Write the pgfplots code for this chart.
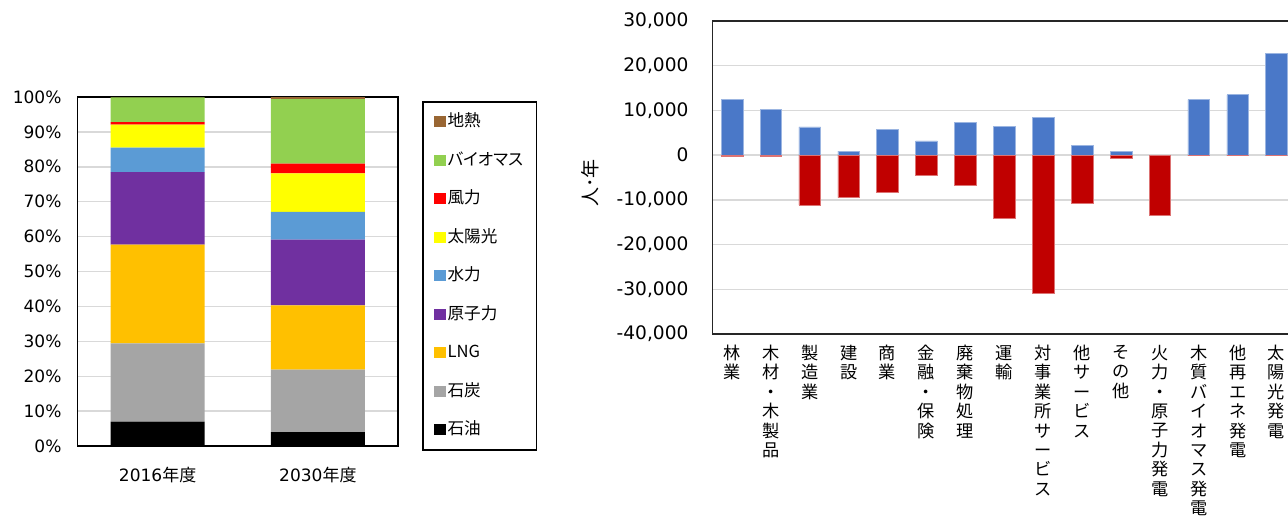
\documentclass[border=0pt]{standalone}
\usepackage{fontspec}
\setmainfont{DejaVu Sans}
\newfontfamily\jp{Noto Sans CJK JP}
\newfontfamily\jpp[RawFeature=+palt]{Noto Sans CJK JP}
\usepackage{pgfplots}
\pgfplotsset{compat=1.18}

\definecolor{oil}{HTML}{000000}
\definecolor{coal}{HTML}{A5A5A5}
\definecolor{lng}{HTML}{FFC000}
\definecolor{nuclear}{HTML}{7030A0}
\definecolor{hydro}{HTML}{5B9BD5}
\definecolor{solar}{HTML}{FFFF00}
\definecolor{wind}{HTML}{FF0000}
\definecolor{biomass}{HTML}{92D050}
\definecolor{geo}{HTML}{996633}
\definecolor{posblue}{HTML}{4A78C8}
\definecolor{negred}{HTML}{C00000}
\definecolor{gridgray}{HTML}{D9D9D9}
\definecolor{frame}{HTML}{262626}

\begin{document}
\begin{tikzpicture}
\path[use as bounding box] (0,0) rectangle (644pt,258pt);
\clip (0,0) rectangle (644pt,258pt);

% ---- electricity mix, share of generation ----
\begin{axis}[
  at={(38.75pt,35pt)}, anchor=south west,
  scale only axis, width=160.25pt, height=174.5pt,
  ybar stacked, bar width=0.5875,
  xmin=-0.5, xmax=1.5, ymin=0, ymax=100,
  xtick={0,1}, xticklabels={{2016\jp 年度},{2030\jp 年度}},
  ytick={0,10,...,100},
  yticklabels={0\%,10\%,20\%,30\%,40\%,50\%,60\%,70\%,80\%,90\%,100\%},
  ymajorgrids, grid style={gridgray, line width=0.7pt},
  major tick length=0pt,
  axis line style={black, line width=0.8pt},
  tick label style={font=\fontsize{8.5}{10}\selectfont},
  yticklabel style={xshift=-4.5pt},
  xticklabel style={yshift=-7pt},
  reverse legend,
  legend cell align=left,
  legend image code/.code={\fill[#1] (0pt,-2.8pt) rectangle (5.6pt,2.8pt);},
  legend style={
    at={(1.075,0.9885)}, anchor=north west,
    draw=black, line width=0.8pt,
    inner xsep=5.8pt, inner ysep=5pt,
    row sep=9.25pt,
    font=\jpp\fontsize{8.3}{9}\selectfont,
    nodes={inner sep=1pt, text height=6.5pt, text depth=1.5pt},
  },
]
\addplot[fill=oil, draw=none]     coordinates {(0,7.0)  (1,4.0)};
\addplot[fill=coal, draw=none]    coordinates {(0,22.4) (1,17.9)};
\addplot[fill=lng, draw=none]     coordinates {(0,28.3) (1,18.4)};
\addplot[fill=nuclear, draw=none] coordinates {(0,20.8) (1,18.8)};
\addplot[fill=hydro, draw=none]   coordinates {(0,7.0)  (1,8.0)};
\addplot[fill=solar, draw=none]   coordinates {(0,6.6)  (1,11.0)};
\addplot[fill=wind, draw=none]    coordinates {(0,0.7)  (1,2.8)};
\addplot[fill=biomass, draw=none] coordinates {(0,7.1)  (1,18.5)};
\addplot[fill=geo, draw=none]     coordinates {(0,0.1)  (1,0.6)};
\legend{石油,石炭,LNG,原子力,水力,太陽光,風力,バイオマス,地熱}
\end{axis}

% ---- employment effect by sector ----
\begin{axis}[
  at={(356.25pt,91pt)}, anchor=south west,
  scale only axis, width=291.75pt, height=156.5pt,
  ybar, bar width=0.558, bar shift=0pt,
  xmin=-0.5, xmax=14.5, ymin=-40000, ymax=30000,
  xtick={0,...,14},
  xticklabels={
    林\\業,
    木\\材\\・\\木\\製\\品,
    製\\造\\業,
    建\\設,
    商\\業,
    金\\融\\・\\保\\険,
    廃\\棄\\物\\処\\理,
    運\\輸,
    対\\事\\業\\所\\サ\\ー\\ビ\\ス,
    他\\サ\\ー\\ビ\\ス,
    そ\\の\\他,
    火\\力\\・\\原\\子\\力\\発\\電,
    木\\質\\バ\\イ\\オ\\マ\\ス\\発\\電,
    他\\再\\エ\\ネ\\発\\電,
    太\\陽\\光\\発\\電},
  xticklabel style={font=\jp\fontsize{8.6}{9.7}\selectfont, align=center,
    anchor=north, yshift=-2pt},
  scaled y ticks=false,
  ytick={-40000,-30000,...,30000},
  yticklabels={-40{,}000,-30{,}000,-20{,}000,-10{,}000,0,10{,}000,20{,}000,30{,}000},
  yticklabel style={font=\fontsize{9.3}{11}\selectfont, xshift=-8.5pt},
  ymajorgrids, grid style={gridgray, line width=0.7pt},
  major tick length=0pt,
  axis line style={frame, line width=0.9pt},
  ylabel={\jp 人･年},
  ylabel style={at={(axis description cs:-0.209,0.482)}, anchor=center,
    font=\fontsize{9.5}{11}\selectfont},
]
\addplot[fill=posblue, draw=posblue!55!white, line width=0.3pt] coordinates {
  (0,12400) (1,10200) (2,6300) (3,900) (4,5800) (5,3200) (6,7300)
  (7,6400) (8,8400) (9,2200) (10,800) (11,0) (12,12400) (13,13500) (14,22700)};
\addplot[fill=negred, draw=negred!55!white, line width=0.3pt] coordinates {
  (0,-150) (1,-150) (2,-11200) (3,-9500) (4,-8400) (5,-4600) (6,-6800)
  (7,-14100) (8,-30800) (9,-10800) (10,-700) (11,-13400) (12,0) (13,0) (14,0)};
\end{axis}
\end{tikzpicture}
\end{document}
